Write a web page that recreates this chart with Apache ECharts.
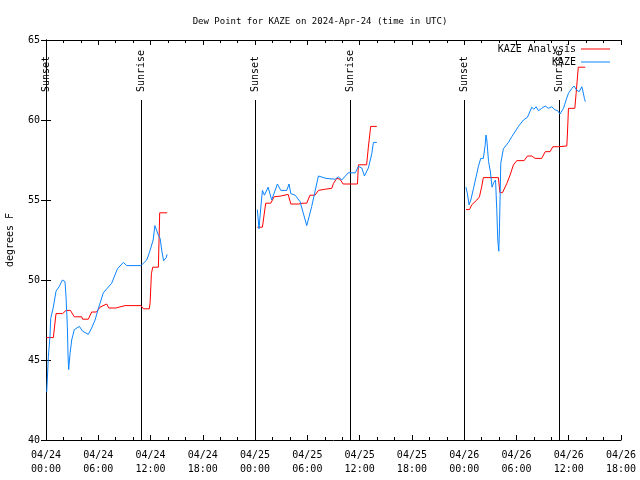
<!DOCTYPE html>
<html>
<head>
<meta charset="utf-8">
<script src="https://cdn.jsdelivr.net/npm/echarts@6/dist/echarts.min.js"></script>
<style>html,body{margin:0;padding:0;background:#fff}#c{width:640px;height:480px}</style>
</head>
<body>
<div id="c"></div>
<script>
// Hours since 2024-04-24 00:00 UTC; null breaks the line
var obsHours = [0.08,0.15,0.27,0.46,0.54,0.84,1.15,1.53,1.88,2.18,2.3,2.45,2.53,2.6,2.76,2.95,3.25,3.83,4.2,4.86,5.24,5.63,6.0,6.58,7.54,8.2,8.88,9.26,10.9,11.56,11.86,12.3,12.5,12.9,13.1,13.3,13.5,13.8,13.9,
  20,
  24.26,24.45,24.65,24.84,25.07,25.5,25.9,26.56,26.95,27.63,27.9,28.1,28.6,29.16,29.93,30.5,31.27,32.15,33.2,33.56,33.95,34.7,35.5,35.86,36.25,36.55,37.0,37.4,37.58,37.97,
  45,
  48.2,48.37,48.56,48.76,49.06,49.37,49.63,49.9,50.2,50.4,50.5,50.6,50.8,51.0,51.2,51.4,51.6,51.74,51.86,51.97,52.05,52.2,52.5,53.08,53.47,54.23,54.8,55.26,55.76,56.0,56.26,56.52,56.9,57.3,57.67,58.06,58.44,58.7,59.0,59.4,59.7,59.97,60.36,60.6,60.9,61.2,61.5,61.6,61.8,61.9];
var obsDew = [43.0,43.75,45.2,46.5,47.6,48.3,49.3,49.6,50.0,49.9,48.95,47.1,45.3,44.4,45.4,46.25,46.9,47.1,46.8,46.6,47.0,47.5,48.2,49.2,49.8,50.7,51.1,50.9,50.9,51.25,51.7,52.5,53.4,52.8,52.6,51.8,51.2,51.4,51.6,
  null,
  54.4,53.2,54.5,55.6,55.3,55.8,55.0,56.0,55.6,55.6,56.0,55.4,55.3,54.9,53.4,54.6,56.5,56.35,56.3,56.45,56.25,56.7,56.7,57.1,57.0,56.5,57.0,57.9,58.6,58.6,
  null,
  55.8,55.4,54.7,55.0,55.7,56.45,57.1,57.6,57.6,58.4,59.06,58.75,57.4,56.8,55.8,56.1,56.25,54.4,52.5,51.8,53.2,57.3,58.2,58.6,58.96,59.6,60.0,60.17,60.8,60.67,60.83,60.58,60.73,60.875,60.73,60.83,60.625,60.6,60.375,60.73,61.25,61.67,61.98,62.125,61.875,61.77,62.08,61.875,61.35,61.15];

var anaHours = [0.05,0.84,1.15,1.9,2.3,2.8,3.25,4.1,4.2,4.86,5.24,5.8,6.2,6.97,7.2,8.0,8.2,9.07,10.9,11.17,11.86,11.95,12.1,12.25,12.9,13.05,13.9,
  20,
  24.26,24.84,25.03,25.22,25.8,26.18,26.95,27.8,28.1,28.97,29.5,29.93,30.3,30.88,31.27,32.0,32.8,33.0,33.37,33.75,34.1,34.9,35.75,35.86,36.8,37.0,37.27,37.97,
  45,
  48.2,48.6,48.87,49.45,49.75,50.0,50.2,51.93,52.1,52.4,52.9,53.27,53.65,54.04,54.88,55.26,55.76,56.14,56.9,57.3,57.86,58.17,58.8,59.0,59.78,59.85,59.97,60.7,60.85,61.1,61.9];
var anaDew = [46.4,46.4,47.9,47.9,48.1,48.1,47.7,47.7,47.55,47.55,48.0,48.0,48.3,48.5,48.25,48.25,48.35,48.4,48.4,48.2,48.2,48.6,50.4,50.8,50.8,54.2,54.2,
  null,
  53.3,53.3,54.06,54.8,54.8,55.2,55.25,55.35,54.75,54.75,54.8,54.8,55.3,55.3,55.6,55.67,55.73,56.04,56.35,56.3,56.0,56.0,56.0,57.2,57.2,58.3,59.6,59.6,
  null,
  54.4,54.4,54.7,55.0,55.2,55.8,56.4,56.4,55.46,55.46,56.04,56.56,57.19,57.46,57.46,57.75,57.75,57.6,57.6,58.02,58.02,58.33,58.33,58.44,58.375,59.125,60.73,60.73,61.67,63.3,63.3];

var sunHours = [0, 10.9, 24, 34.9, 48, 58.9];
var sunLabels = ['Sunset','Sunrise','Sunset','Sunrise','Sunset','Sunrise'];

var xTickDays = ['04/24','04/25','04/26','04/27'];

function pairs(xs, ys){ return xs.map(function(x,i){ return [x, ys[i]]; }); }

var FONT = 'DejaVu Sans Mono';
var chart = echarts.init(document.getElementById('c'), null, {renderer:'canvas'});

function xLabel(v){
  var d = Math.floor(v/24 + 1e-9), h = Math.round(v - d*24);
  return xTickDays[d] + '\n' + (h<10?'0':'') + h + ':00';
}

var xBase = {
  type:'value', min:0, max:66, interval:6,
  axisLine:{show:true, lineStyle:{color:'#000', width:1}},
  axisTick:{show:true, inside:true, length:5, lineStyle:{color:'#000'}},
  minorTick:{show:true, splitNumber:3, length:3, lineStyle:{color:'#000'}},
  splitLine:{show:false}, minorSplitLine:{show:false}
};
var yBase = {
  type:'value', min:40, max:65, interval:5,
  axisLine:{show:true, lineStyle:{color:'#000', width:1}},
  axisTick:{show:true, inside:true, length:5, lineStyle:{color:'#000'}},
  splitLine:{show:false}
};

chart.setOption({
  animation:false,
  backgroundColor:'#fff',
  textStyle:{fontFamily:FONT},
  title:{
    text:'Dew Point for KAZE on 2024-Apr-24 (time in UTC)',
    left:'center', top:12,
    textStyle:{fontFamily:FONT, fontSize:9, fontWeight:'normal', color:'#000'}
  },
  legend:{
    data:['KAZE Analysis','KAZE'],
    orient:'vertical', right:30, top:44, align:'right',
    itemWidth:29, itemHeight:1, itemGap:3, icon:'rect',
    textStyle:{fontFamily:FONT, fontSize:10, color:'#000', padding:[0,0,0,0]},
    padding:0
  },
  grid:{left:46, right:19, top:40, bottom:40, containLabel:false, outerBoundsMode:'none'},
  xAxis:[
    Object.assign({}, xBase, {position:'bottom',
      axisLabel:{show:true, margin:8, fontFamily:FONT, fontSize:10, color:'#000', lineHeight:14, formatter:xLabel}}),
    Object.assign({}, xBase, {position:'top', axisLabel:{show:false}})
  ],
  yAxis:[
    Object.assign({}, yBase, {position:'left',
      name:'degrees F', nameLocation:'middle', nameGap:31, nameRotate:90,
      nameTextStyle:{fontFamily:FONT, fontSize:10, color:'#000'},
      axisLabel:{show:true, margin:6, fontFamily:FONT, fontSize:10, color:'#000'}}),
    Object.assign({}, yBase, {position:'right', axisLabel:{show:false}})
  ],
  series:[
    {
      name:'KAZE Analysis', type:'line', data:pairs(anaHours, anaDew),
      showSymbol:false, symbol:'none', connectNulls:false,
      lineStyle:{color:'#ff0000', width:1}, itemStyle:{color:'#ff0000'}, z:3
    },
    {
      name:'KAZE', type:'line', data:pairs(obsHours, obsDew),
      showSymbol:false, symbol:'none', connectNulls:false,
      lineStyle:{color:'#0b84ff', width:1}, itemStyle:{color:'#0b84ff'}, z:4
    },
    {
      name:'sun', type:'custom', data:sunHours.map(function(h){ return [h]; }), z:2,
      renderItem:function(params, api){
        var h = api.value(0);
        var top = api.coord([h, 61.25]);
        var bot = api.coord([h, 40]);
        var lab = api.coord([h, 61.75]);
        var x = Math.round(top[0]) + 0.5;
        return {type:'group', children:[
          {type:'line', shape:{x1:x, y1:top[1], x2:x, y2:bot[1]}, style:{stroke:'#000', lineWidth:1}},
          {type:'text', x:x, y:lab[1], rotation:Math.PI/2,
           style:{text:sunLabels[params.dataIndex], font:'10px ' + FONT, fill:'#000', align:'left', verticalAlign:'middle'}}
        ]};
      }
    }
  ]
});
</script>
</body>
</html>
